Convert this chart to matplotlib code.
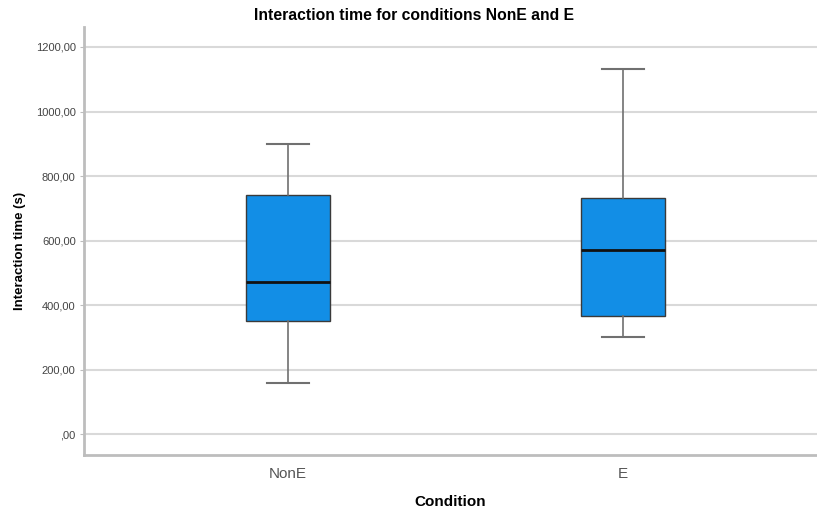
import matplotlib.pyplot as plt

plt.rcParams['font.family'] = ['Liberation Sans', 'DejaVu Sans']

conditions = ['NonE', 'E']
whisker_low = [157, 302]
q1 = [349, 366]
median = [472, 571]
q3 = [741, 733]
whisker_high = [899, 1131]

y_ticks = [0, 200, 400, 600, 800, 1000, 1200]
y_tick_labels = [',00', '200,00', '400,00', '600,00', '800,00', '1000,00', '1200,00']

stats = []
for i, name in enumerate(conditions):
    stats.append({
        'label': name,
        'whislo': whisker_low[i],
        'q1': q1[i],
        'med': median[i],
        'q3': q3[i],
        'whishi': whisker_high[i],
        'fliers': [],
    })

fig = plt.figure(figsize=(8.17, 5.12), dpi=100)
ax = fig.add_axes([84 / 817, 57 / 512, 1 - 84 / 817, (455 - 27) / 512])

ax.bxp(stats, positions=[0, 1], widths=0.25, capwidths=0.125,
       patch_artist=True, showfliers=False,
       boxprops=dict(facecolor='#128ee6', edgecolor='#3a3a3a', linewidth=1.0),
       medianprops=dict(color='#111111', linewidth=2.0),
       whiskerprops=dict(color='#707070', linewidth=1.2),
       capprops=dict(color='#707070', linewidth=1.5),
       zorder=3)

ax.set_xlim(-0.609, 1.579)
ax.set_ylim(-65, 1262)
ax.set_yticks(y_ticks)
ax.set_yticklabels(y_tick_labels)
ax.grid(axis='y', color='#d9d9d9', linewidth=1.5, zorder=0)
ax.set_axisbelow(True)

for side in ['top', 'right']:
    ax.spines[side].set_visible(False)
for side in ['left', 'bottom']:
    ax.spines[side].set_color('#bdbdbd')
    ax.spines[side].set_linewidth(2)

ax.tick_params(axis='y', labelsize=8, labelcolor='#444444', color='#bdbdbd', length=3, pad=3)
ax.tick_params(axis='x', labelsize=11, labelcolor='#555555', length=0, pad=9)

ax.set_xlabel('Condition', fontsize=11, fontweight='bold', labelpad=10)
ax.set_ylabel('Interaction time (s)', fontsize=9.5, fontweight='bold')
ax.yaxis.set_label_coords((26 - 84) / 733, (455 - 251) / 428)
fig.text(414 / 817, 1 - 16 / 512, 'Interaction time for conditions NonE and E',
         ha='center', va='center', fontsize=11.3, fontweight='bold')

fig.savefig('out.png', dpi=100)
